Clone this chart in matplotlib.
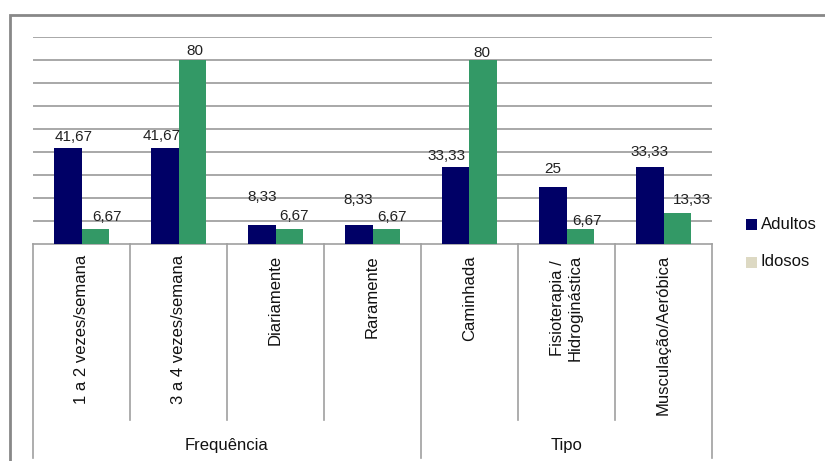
import numpy as np
import matplotlib
matplotlib.use('Agg')
import matplotlib.pyplot as plt
from matplotlib.patches import Rectangle
import matplotlib.transforms as mtransforms

plt.rcParams['font.family'] = ['Liberation Sans', 'DejaVu Sans']

categories = ['1 a 2 vezes/semana', '3 a 4 vezes/semana', 'Diariamente', 'Raramente',
              'Caminhada', 'Fisioterapia /\nHidroginástica', 'Musculação/Aeróbica']
groups = ['Frequência', 'Tipo']
group_sizes = [4, 3]
adultos = [41.67, 41.67, 8.33, 8.33, 33.33, 25, 33.33]
idosos = [6.67, 80, 6.67, 6.67, 80, 6.67, 13.33]

navy = '#000066'
green = '#339966'
beige = '#ddd9c3'

# label offsets in pixels (dx, gap above bar top to label centre), placed like the original
off_adultos = [(6, 11), (-3, 12), (0, 28), (-1, 25), (-9, 11), (0, 18), (0, 15)]
off_idosos = [(12, 12), (3, 9), (5, 13), (6, 12), (-1, 7), (7, 8), (15, 13)]

fig = plt.figure(figsize=(8.25, 4.61), dpi=100)
ax = fig.add_axes([33/825, 1 - 244/461, (712-33)/825, 207/461])

# frame round the chart
fig.patches.append(Rectangle((10/825, -0.1), 1.2, 1 - 15/461 + 0.1, transform=fig.transFigure,
                             fill=False, edgecolor='#888888', linewidth=2))

x = np.arange(len(categories))
w = 0.28
b1 = ax.bar(x - w/2, adultos, w, color=navy, label='Adultos', zorder=3)
b2 = ax.bar(x + w/2, idosos, w, color=green, label='Idosos', zorder=3)

def fmt(v):
    s = ('%.2f' % v).rstrip('0').rstrip('.')
    return s.replace('.', ',')

for bars, vals, offs in [(b1, adultos, off_adultos), (b2, idosos, off_idosos)]:
    for r, v, (dx, dy) in zip(bars, vals, offs):
        ax.annotate(fmt(v), (r.get_x() + r.get_width()/2, v), xytext=(dx, dy),
                    textcoords='offset pixels', ha='center', va='center',
                    fontsize=11, color='#222222', zorder=4)

ax.set_xlim(-0.5, len(categories) - 0.5)
ax.set_ylim(0, 90)
ax.set_yticks(np.arange(10, 91, 10))
ax.yaxis.grid(True, color='#999999', linewidth=1.2, zorder=0)
ax.set_xticks([])
ax.tick_params(left=False, labelleft=False)
for s in ['top', 'right', 'left']:
    ax.spines[s].set_visible(False)
ax.spines['bottom'].set_color('#a0a0a0')
ax.spines['bottom'].set_linewidth(1.2)

trans = mtransforms.blended_transform_factory(ax.transData, ax.transAxes)
# category labels
for i, c in enumerate(categories):
    ax.text(i, -11/207, c, rotation=90, ha='center', va='top', fontsize=12,
            transform=trans, multialignment='center', color='#111111')

# separators
bounds = np.cumsum([0] + group_sizes) - 0.5
for i in range(len(categories) + 1):
    xb = i - 0.5
    ybot = -214/207 if xb in bounds else -176/207
    ax.plot([xb, xb], [0, ybot], color='#a0a0a0', linewidth=1.2, transform=trans, clip_on=False)

# group labels
for g, a, b in zip(groups, bounds[:-1], bounds[1:]):
    ax.text((a + b)/2, -201/207, g, ha='center', va='center', fontsize=12,
            transform=trans, color='#111111')

# legend
fig.patches.append(Rectangle((746/825, 1 - 230/461), 11/825, 11/461, transform=fig.transFigure,
                             facecolor=navy, edgecolor='none'))
fig.text(761/825, 1 - 224/461, 'Adultos', fontsize=12, va='center', ha='left', color='#111111')
fig.patches.append(Rectangle((746/825, 1 - 268/461), 11/825, 11/461, transform=fig.transFigure,
                             facecolor=beige, edgecolor='none'))
fig.text(761/825, 1 - 262/461, 'Idosos', fontsize=12, va='center', ha='left', color='#111111')

fig.savefig('out.png', dpi=100)
